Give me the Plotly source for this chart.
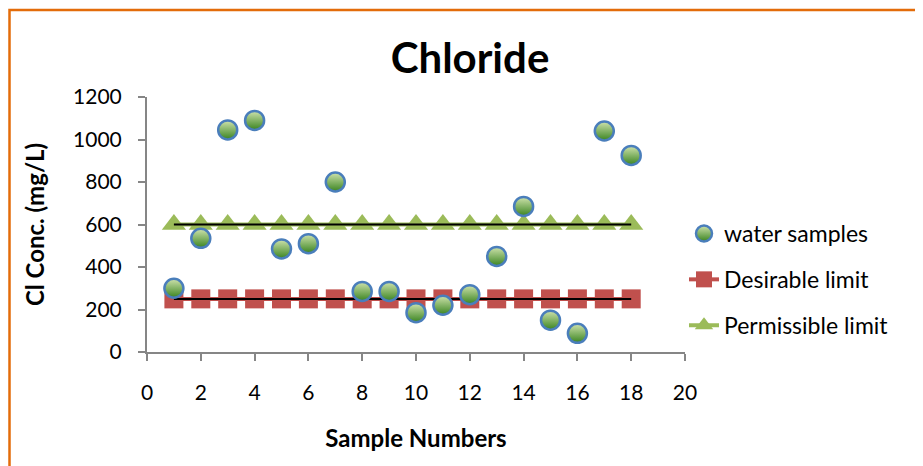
import plotly.graph_objects as go

samples = list(range(1, 19))
water = [300, 535, 1045, 1090, 485, 510, 800, 285, 285, 185, 220, 270, 450, 685, 150, 88, 1040, 925]
desirable = [250] * 18
permissible = [600] * 18

x_ticks = list(range(0, 21, 2))
y_ticks = list(range(0, 1201, 200))

FONT = "Lato"
OFF = 8  # page body margin
W, H = 923 - OFF, 466 - OFF
# target plot area in screen pixels
L, R, T, B = 147 - OFF, 685 - OFF, 97 - OFF, 352 - OFF

fig = go.Figure()

# limit series (drawn first)
fig.add_trace(go.Scatter(
    x=samples, y=desirable, mode="lines+markers", name="Desirable limit",
    legendrank=2, legendgroup="b",
    line=dict(color="#c0504d", width=4),
    marker=dict(symbol="square", size=19, color="#c0504d"),
))
fig.add_trace(go.Scatter(
    x=samples, y=permissible, mode="lines+markers", name="Permissible limit",
    legendrank=3, legendgroup="c",
    line=dict(color="#9bbb59", width=4),
    marker=dict(symbol="triangle-up", size=21, color="#9bbb59"),
))
# black trend lines
fig.add_trace(go.Scatter(x=[samples[0], samples[-1]], y=[desirable[0], desirable[-1]],
                         mode="lines", line=dict(color="black", width=2),
                         showlegend=False, hoverinfo="skip"))
fig.add_trace(go.Scatter(x=[samples[0], samples[-1]], y=[permissible[0], permissible[-1]],
                         mode="lines", line=dict(color="black", width=2),
                         showlegend=False, hoverinfo="skip"))
# water samples on top
fig.add_trace(go.Scatter(
    x=samples, y=water, mode="markers", name="water samples",
    legendrank=1, legendgroup="a",
    marker=dict(symbol="circle", size=19, color="#cfe3ad",
                line=dict(color="#4a7ebb", width=2.5),
                gradient=dict(type="vertical", color="#3a8420")),
))

pw = R - L
ph = B - T

def px(xs):
    return (xs - OFF - L) / pw

def py(ys):
    return (B - (ys - OFF)) / ph

fig.update_layout(
    width=W, height=H,
    margin=dict(l=L, r=W - R, t=T, b=H - B),
    paper_bgcolor="white", plot_bgcolor="white",
    font=dict(family=FONT, color="black", size=20),
    title=dict(text="<b>Chloride</b>", x=(470 - OFF) / W, xanchor="center",
               y=1 - (58 - OFF) / H, yanchor="middle",
               font=dict(family=FONT, size=42, color="black")),
    xaxis=dict(range=[0, 20], tickvals=x_ticks, showgrid=False, zeroline=False,
               showline=True, linecolor="#868686", linewidth=2,
               ticks="outside", ticklen=7, tickcolor="#868686", tickwidth=1.5,
               ticklabelstandoff=14,
               tickfont=dict(size=21, family=FONT),
               title=dict(text="<b>Sample Numbers</b>", font=dict(size=24, family=FONT), standoff=27)),
    yaxis=dict(range=[0, 1200], tickvals=y_ticks, showgrid=False, zeroline=False,
               showline=True, linecolor="#868686", linewidth=2,
               ticks="outside", ticklen=7, tickcolor="#868686", tickwidth=1.5,
               ticklabelstandoff=12,
               tickfont=dict(size=21, family=FONT),
               title=dict(text="<b>Cl Conc. (mg/L)</b>", font=dict(size=24, family=FONT), standoff=22)),
    legend=dict(x=px(684), y=py(212), xanchor="left", yanchor="top",
                font=dict(size=23, family=FONT), tracegroupgap=13,
                traceorder="grouped", bgcolor="rgba(0,0,0,0)"),
    showlegend=True,
    shapes=[dict(type="rect", xref="paper", yref="paper",
                 x0=px(9.5), x1=px(940), y0=py(480), y1=py(10),
                 line=dict(color="#e36c0a", width=2.5), fillcolor="rgba(0,0,0,0)", layer="below")],
)

fig.write_html("out.html")
